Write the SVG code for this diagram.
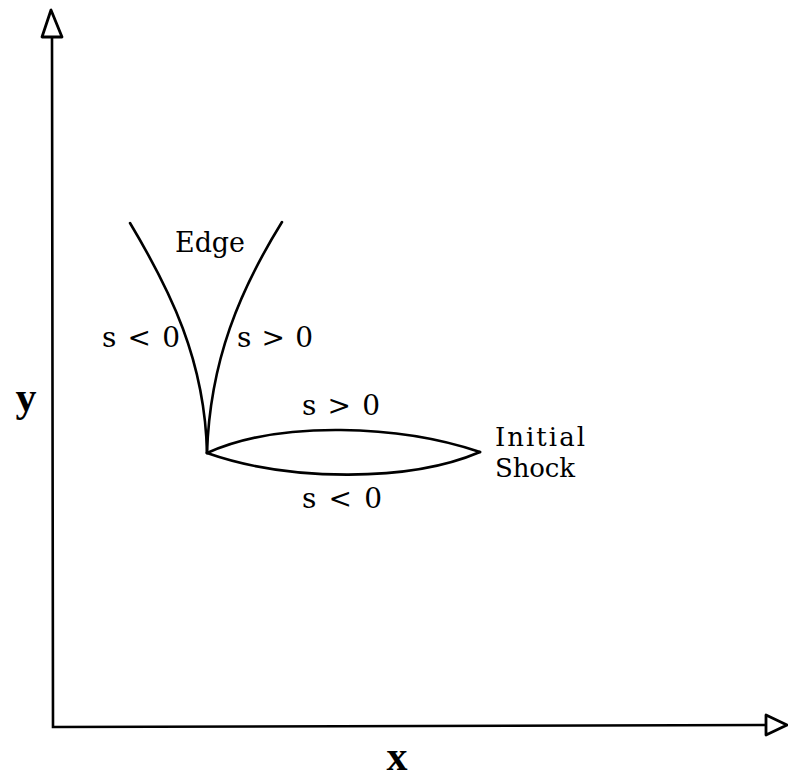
<svg xmlns="http://www.w3.org/2000/svg" width="788" height="781" viewBox="0 0 788 781">
<style>
.ln{fill:none;stroke:#000;stroke-width:2.6;stroke-linecap:round}
.ah{fill:#fff;stroke:#000;stroke-width:2.8;stroke-linejoin:round}
.t{font-family:"DejaVu Serif","Liberation Serif",serif;font-size:28px;fill:#000}
.s{font-size:26px}
.ax{font-family:"Liberation Serif",serif;font-size:42px;font-weight:bold;fill:#000}
</style>
<rect width="788" height="781" fill="#fff"/>
<g id="axes">
<path class="ln" d="M52,37 L53,727 L766,725"/>
<polygon class="ah" points="51,10 42,37 62,37"/>
<polygon class="ah" points="787,725 766,715 766,735"/>
<text class="ax" x="26" y="411" text-anchor="middle">y</text>
<text class="ax" x="397" y="770" text-anchor="middle">x</text>
</g>
<g id="connectors">
<path class="ln" d="M130,223 C170,290 205,360 207,453"/>
<path class="ln" d="M282,222 C240,290 210,360 207,453"/>
<path class="ln" d="M207,453 C280,420 400,425 480,452"/>
<path class="ln" d="M207,453 C290,482 410,482 480,452"/>
</g>
<g id="edge">
<text class="t" x="175" y="252" textLength="70" lengthAdjust="spacingAndGlyphs">Edge</text>
</g>
<g id="edge-labels">
<text class="t" x="102" y="347" textLength="78" lengthAdjust="spacing">s &lt; 0</text>
<text class="t" x="237" y="347" textLength="76" lengthAdjust="spacing">s &gt; 0</text>
</g>
<g id="shock-labels">
<text class="t" x="302" y="415" textLength="78" lengthAdjust="spacing">s &gt; 0</text>
<text class="t" x="302" y="508" textLength="80" lengthAdjust="spacing">s &lt; 0</text>
</g>
<g id="initial-shock">
<text class="t s" x="495" y="446" textLength="90" lengthAdjust="spacing">Initial</text>
<text class="t s" x="495" y="477" textLength="80" lengthAdjust="spacing">Shock</text>
</g>
</svg>
